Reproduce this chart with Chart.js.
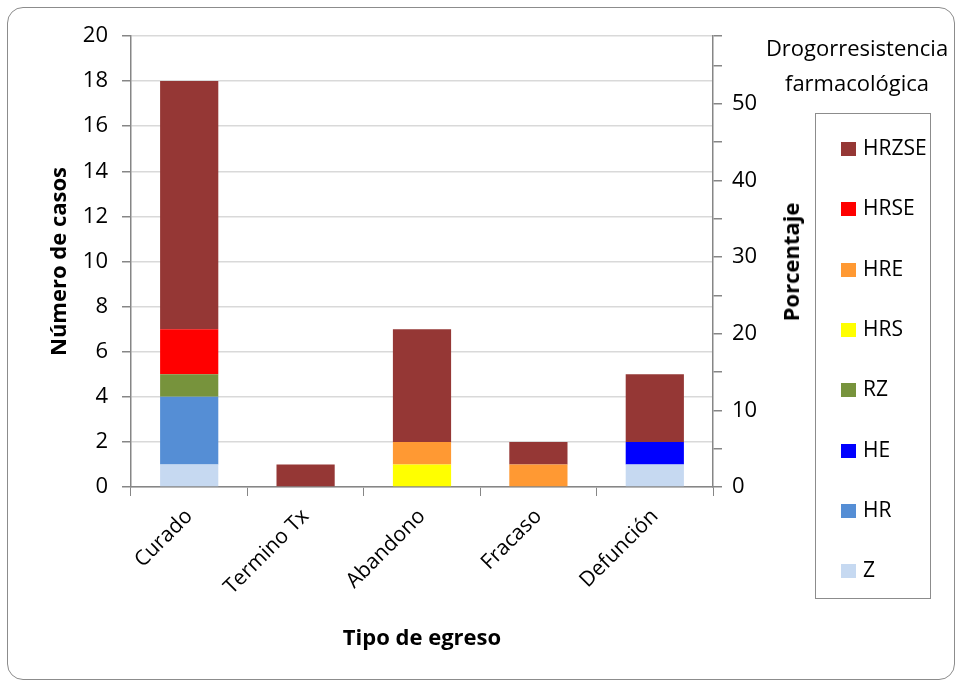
<!DOCTYPE html>
<html>
<head>
<meta charset="utf-8">
<script src="https://cdn.jsdelivr.net/npm/chart.js@4/dist/chart.umd.min.js"></script>
<style>
  body { margin: 0; background: #fff; font-family: "Open Sans", sans-serif; }
  #wrap { position: relative; width: 959px; height: 684px; }
  #frame { position: absolute; left: 7px; top: 7px; width: 948px; height: 673px; border: 1.5px solid #8c8c8c; border-radius: 16px; box-sizing: border-box; }
  canvas { position: absolute; left: 0; top: 0; }
  #legTitle { position: absolute; left: 750px; top: 30px; width: 214px; text-align: center; font-size: 22px; line-height: 35px; color: #000; }
  #yTitle2 { position: absolute; left: 790px; top: 262px; font-size: 22px; font-weight: bold; color: #000; transform: translate(-50%, -50%) rotate(-90deg); white-space: nowrap; }
  #legend { position: absolute; left: 815px; top: 113px; width: 116px; height: 486px; border: 1.5px solid #8c8c8c; box-sizing: border-box; }
  .item { position: absolute; left: 25px; font-size: 21px; color: #000; height: 26px; line-height: 26px; }
  .item span { display: inline-block; width: 15px; height: 14px; margin-right: 7px; vertical-align: -1px; }
</style>
</head>
<body>
<div id="wrap">
  <div id="frame"></div>
  <canvas id="myChart" width="959" height="684"></canvas>
  <div id="legTitle">Drogorresistencia<br>farmacológica</div>
  <div id="yTitle2">Porcentaje</div>
  <div id="legend"></div>
</div>
<script>
const categories = ['Curado', 'Termino Tx', 'Abandono', 'Fracaso', 'Defunción'];
const seriesNames = ['Z', 'HR', 'HE', 'RZ', 'HRS', 'HRE', 'HRSE', 'HRZSE'];
const seriesColors = ['#C6D9F1', '#558ED5', '#0000FF', '#77933C', '#FFFF00', '#FF9933', '#FF0000', '#953735'];
const Z = [1, 0, 0, 0, 1];
const HR = [3, 0, 0, 0, 0];
const HE = [0, 0, 0, 0, 1];
const RZ = [1, 0, 0, 0, 0];
const HRS = [0, 0, 1, 0, 0];
const HRE = [0, 0, 1, 1, 0];
const HRSE = [2, 0, 0, 0, 0];
const HRZSE = [11, 1, 5, 1, 3];
const totalCases = 34;

const seriesValues = [Z, HR, HE, RZ, HRS, HRE, HRSE, HRZSE];
const font = 'Open Sans';
const gray = '#868686';

const ctx = document.getElementById('myChart');
const myChart = new Chart(ctx, {
    type: 'bar',
    data: {
        labels: categories,
        datasets: seriesNames.map((name, i) => ({
            label: name,
            data: seriesValues[i],
            backgroundColor: seriesColors[i],
            barPercentage: 0.5,
            categoryPercentage: 1,
            yAxisID: 'y'
        }))
    },
    options: {
        responsive: false,
        animation: false,
        layout: { padding: { left: 47, top: 36, right: 146, bottom: 28 } },
        plugins: { legend: { display: false }, tooltip: { enabled: false } },
        scales: {
            x: {
                stacked: true,
                grid: { offset: true, drawOnChartArea: false, tickLength: 9, tickColor: gray },
                border: { color: gray, width: 1.5 },
                ticks: { color: '#000', font: { family: font, size: 21 }, minRotation: 45, maxRotation: 45, padding: 8 },
                title: { display: true, text: 'Tipo de egreso', color: '#000', font: { family: font, size: 22, weight: 'bold' }, padding: { top: 4, bottom: 4 } },
                afterFit: s => { s.height = 169; }
            },
            y: {
                stacked: true,
                position: 'left',
                min: 0, max: 20,
                ticks: { stepSize: 2, color: '#000', font: { family: font, size: 22 }, padding: 14 },
                grid: { color: '#D9D9D9', lineWidth: 1.5, tickLength: 9, tickColor: gray },
                border: { color: gray, width: 1.5 },
                title: { display: true, text: 'Número de casos', color: '#000', font: { family: font, size: 22, weight: 'bold' }, padding: { top: 0, bottom: 4 } },
                afterFit: s => { s.width = 84; }
            },
            y2: {
                position: 'right',
                min: 0, max: 20 / totalCases * 100,
                ticks: { stepSize: 5, color: '#000', font: { family: font, size: 22 }, padding: 10,
                    callback: v => (v % 10 === 0 ? v : '') },
                grid: { drawOnChartArea: false, tickLength: 9, tickColor: gray, lineWidth: 1.5 },
                border: { color: gray, width: 1.5 },
                afterFit: s => { s.width = 100; }
            }
        }
    }
});

const legend = document.getElementById('legend');
const order = seriesNames.map((n, i) => i).reverse();
order.forEach((idx, row) => {
    const el = document.createElement('div');
    el.className = 'item';
    el.style.top = (20 + row * 60.3) + 'px';
    el.innerHTML = '<span style="background:' + seriesColors[idx] + '"></span>' + seriesNames[idx];
    legend.appendChild(el);
});
</script>
</body>
</html>
